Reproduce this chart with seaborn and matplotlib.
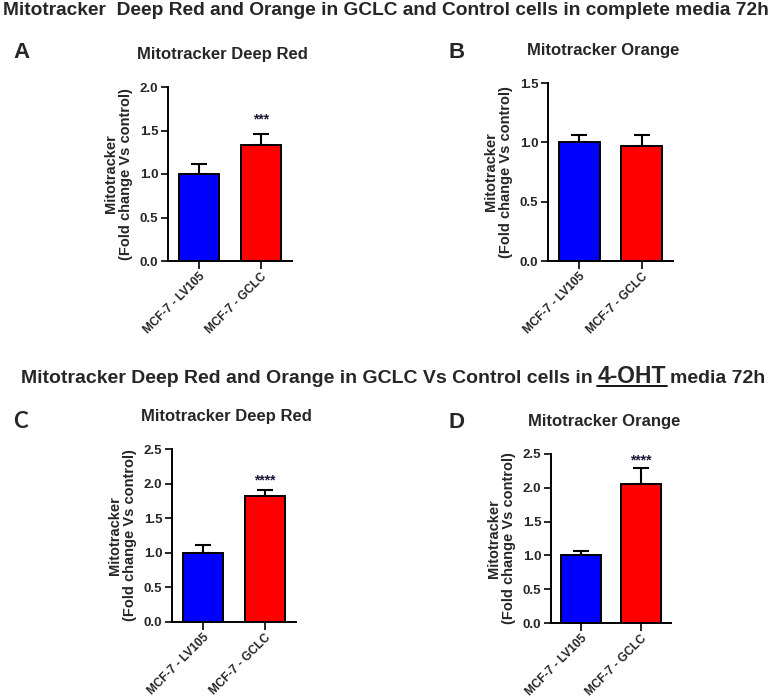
import numpy as np
import pandas as pd
import matplotlib
matplotlib.use("Agg")
import matplotlib.pyplot as plt
from matplotlib.lines import Line2D
import seaborn as sns

sns.set_style("ticks")
plt.rcParams['font.family'] = ['Liberation Sans', 'DejaVu Sans']
plt.rcParams['font.weight'] = 'bold'
plt.rcParams['axes.labelweight'] = 'bold'

# -------------------
# Data
# -------------------
groups = ["MCF-7 - LV105", "MCF-7 - GCLC"]
bar_colors = ["#0000ff", "#ff0000"]

panel_letters = ["A", "B", "C", "D"]
panel_titles = ["Mitotracker Deep Red", "Mitotracker Orange",
                "Mitotracker Deep Red", "Mitotracker Orange"]

deep_red_complete = [1.00, 1.33]
deep_red_complete_sem = [0.115, 0.125]
orange_complete = [1.00, 0.97]
orange_complete_sem = [0.065, 0.09]
deep_red_ohT = [1.00, 1.82]
deep_red_ohT_sem = [0.11, 0.09]
orange_ohT = [1.00, 2.06]
orange_ohT_sem = [0.065, 0.235]

stars = ["***", "", "****", "****"]
y_max = [2.0, 1.5, 2.5, 2.5]

title_top = "Mitotracker  Deep Red and Orange in GCLC and Control cells in complete media 72h"
title_bottom = ["Mitotracker Deep Red and Orange in GCLC Vs Control cells in", "4-OHT", "media 72h"]

means = [deep_red_complete, orange_complete, deep_red_ohT, orange_ohT]
sems = [deep_red_complete_sem, orange_complete_sem, deep_red_ohT_sem, orange_ohT_sem]

# -------------------
# Layout
# -------------------
W, H = 776, 698
fig = plt.figure(figsize=(W / 100, H / 100), dpi=100)

# axes boxes in pixels: left, top, right, bottom
boxes = [(168, 87, 292, 261), (548, 83, 673, 261),
         (172, 449, 296, 622), (551, 454, 671, 623)]
letter_pos = [(21, 53), (457, 53), (20, 422), (457, 422)]
star_offset = [8, 3.5, 4, 2.5]

for i in range(4):
    l, t, r, b = boxes[i]
    ax = fig.add_axes([l / W, 1 - b / H, (r - l) / W, (b - t) / H])
    df = pd.DataFrame({"group": groups, "value": means[i]})
    sns.barplot(data=df, x="group", y="value", hue="group", palette=bar_colors,
                saturation=1, legend=False, errorbar=None, width=0.66,
                edgecolor="black", linewidth=1.4, ax=ax, zorder=3)
    ax.errorbar(np.arange(len(groups)), means[i],
                yerr=[np.zeros(len(groups)), sems[i]], fmt="none",
                ecolor="black", elinewidth=1.5, capsize=5.5, capthick=1.5, zorder=2)
    ax.set_ylim(0, y_max[i])
    ticks = np.arange(0, y_max[i] + 0.01, 0.5)
    ax.set_yticks(ticks)
    ax.set_yticklabels([f"{v:.1f}" for v in ticks])
    ax.set_xlim(-0.5, 1.5)
    ax.set_xlabel("")
    ax.set_ylabel("Mitotracker\n(Fold change Vs control)", fontsize=10.5,
                  labelpad=5, linespacing=1.1)
    ax.tick_params(axis="y", labelsize=9.5, length=5, width=1.4, pad=2)
    ax.tick_params(axis="x", labelsize=8.6, length=6, width=1.4, pad=1)
    for lab in ax.get_xticklabels():
        lab.set_rotation(45)
        lab.set_ha("right")
        lab.set_rotation_mode("anchor")
    sns.despine(ax=ax)
    for s in ["left", "bottom"]:
        ax.spines[s].set_linewidth(1.4)
        ax.spines[s].set_color("black")
    ax.set_title(panel_titles[i], fontsize=12, fontweight="bold", pad=20, x=0.44)

    if stars[i]:
        top = means[i][1] + sems[i][1]
        ax.annotate(stars[i], xy=(1, top), xytext=(0, star_offset[i]),
                    textcoords="offset points", ha="center", va="baseline",
                    fontsize=10, color="#1a1a3a", annotation_clip=False)

    lx, ly = letter_pos[i]
    fig.text(lx / W, 1 - ly / H, panel_letters[i], fontsize=16, fontweight="bold",
             ha="center", va="center",
             family=["Lato", "DejaVu Sans"] if panel_letters[i] == "C" else None)

# main titles
fig.text(386 / W, 1 - 15 / H, title_top, ha="center", va="baseline",
         fontsize=13.8, fontweight="bold")

# second title: three pieces on one baseline, middle one larger and underlined
renderer = fig.canvas.get_renderer()
base_y = 1 - 383 / H
t1 = fig.text(21 / W, base_y, title_bottom[0], ha="left", va="baseline",
              fontsize=14, fontweight="bold")
x1 = t1.get_window_extent(renderer).x1
t2 = fig.text((x1 + 5) / W, base_y, title_bottom[1], ha="left", va="baseline",
              fontsize=16.5, fontweight="bold")
bb2 = t2.get_window_extent(renderer)
fig.text((bb2.x1 + 4) / W, base_y, title_bottom[2], ha="left", va="baseline",
         fontsize=14, fontweight="bold")
fig.add_artist(Line2D([(bb2.x0 - 1) / W, (bb2.x1 + 1) / W],
                      [base_y - 2.5 / H, base_y - 2.5 / H],
                      transform=fig.transFigure, color="black", lw=1.3))

fig.savefig("out.png", dpi=100)
